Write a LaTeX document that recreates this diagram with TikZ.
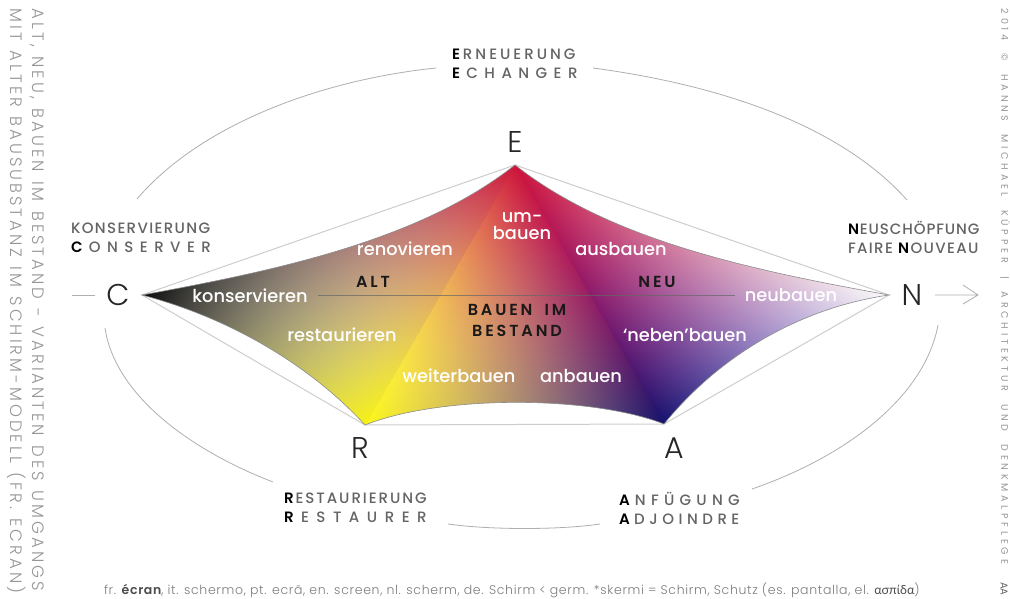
\documentclass[tikz,border=0pt]{standalone}
\usepackage{fontspec}
\setmainfont{Poppins}[UprightFont=* Light,BoldFont=* SemiBold]
\newfontfamily\medfont{Poppins Medium}
\newfontfamily\greekfont{Lato}
\newfontfamily\sidelfont{Poppins Light}[LetterSpace=18.3,WordSpace=1.25]
\newfontfamily\sidesfont{Poppins}[LetterSpace=39.5,WordSpace=2.1]
\newfontfamily\logofont{Poppins}
\newfontfamily\blackfont{Poppins SemiBold}[LetterSpace=18,WordSpace=1.8]
\newfontfamily\footfont{Poppins Light}[LetterSpace=5.4,BoldFont=Poppins SemiBold]
\definecolor{lab}{RGB}{100,100,100}
\definecolor{side}{RGB}{150,150,150}
\definecolor{foot}{RGB}{125,125,125}
\definecolor{arcg}{RGB}{175,175,175}
\definecolor{edgeg}{RGB}{205,205,205}
\tikzset{
 every node/.style={inner sep=0pt,outer sep=0pt},
 vertexl/.style={font=\fontsize{30bp}{30bp}\selectfont,text=black!85},
 heading/.style={text=lab,align=left,anchor=west,font=\fontsize{15bp}{19bp}\selectfont},
 inner/.style={text=white,font=\medfont\fontsize{17.8bp}{17bp}\selectfont,align=center},
 black label/.style={text=black!90,font=\blackfont\fontsize{16bp}{21bp}\selectfont,align=center},
 sidetext/.style={text=side,rotate=-90,anchor=west},
 arcline/.style={draw=arcg,line width=0.8bp},
 edgeline/.style={draw=edgeg,line width=1bp},
}
\newcommand\baryPS[6]{%
 #6 sub exch #5 sub exch
 1 index \fpeval{round((#4-#6)/((#4-#6)*(#1-#5)+(#5-#3)*(#2-#6)),7)} mul 1 index \fpeval{round((#5-#3)/((#4-#6)*(#1-#5)+(#5-#3)*(#2-#6)),7)} mul add
 2 index \fpeval{round((#6-#2)/((#4-#6)*(#1-#5)+(#5-#3)*(#2-#6)),7)} mul 2 index \fpeval{round((#1-#5)/((#4-#6)*(#1-#5)+(#5-#3)*(#2-#6)),7)} mul add
 4 -2 roll pop pop
 1 index 1 index add 1 exch sub }
\newcommand\chanPS[7]{%
 \the\numexpr#1+2\relax\space index dup 2 mul 1 sub mul \fpeval{round(#2/255,4)} mul
 \the\numexpr#1+2\relax\space index dup 2 mul 1 sub mul \fpeval{round(#3/255,4)} mul add
 \the\numexpr#1+1\relax\space index dup 2 mul 1 sub mul \fpeval{round(#4/255,4)} mul add
 \the\numexpr#1+3\relax\space index \the\numexpr#1+3\relax\space index mul 4 mul \fpeval{round(#5/255,4)} mul add
 \the\numexpr#1+3\relax\space index \the\numexpr#1+2\relax\space index mul 4 mul \fpeval{round(#6/255,4)} mul add
 \the\numexpr#1+2\relax\space index \the\numexpr#1+2\relax\space index mul 4 mul \fpeval{round(#7/255,4)} mul add }
\def\finPS{ 6 -3 roll pop pop pop }
\edef\leftPS{\baryPS{142}{295}{515}{165}{365}{425}
 \chanPS{0}{10}{205}{245}{150}{160}{225}
 \chanPS{1}{10}{20}{240}{110}{155}{170}
 \chanPS{2}{10}{58}{20}{110}{100}{95}
 \finPS}
\edef\midPS{\baryPS{515}{165}{365}{425}{664}{424}
 \chanPS{0}{205}{250}{20}{240}{150}{165}
 \chanPS{1}{20}{245}{20}{185}{30}{145}
 \chanPS{2}{58}{25}{105}{85}{100}{110}
 \finPS}
\edef\rightPS{\baryPS{515}{165}{889}{295}{664}{424}
 \chanPS{0}{205}{250}{20}{232}{140}{140}
 \chanPS{1}{20}{250}{20}{160}{25}{135}
 \chanPS{2}{58}{250}{110}{175}{105}{200}
 \finPS}
\edef\fullPS{599 exch sub
 1 index 515 sub 1 index 165 sub \fpeval{round(150/260,5)} mul add 0 lt
 {\leftPS}
 {1 index 515 sub 1 index 165 sub \fpeval{round(149/259,5)} mul sub 0 gt
  {\rightPS}{\midPS} ifelse}
 ifelse}
\pgfdeclarefunctionalshading{shirm}{\pgfpointorigin}{\pgfpoint{1010bp}{599bp}}{}{\fullPS}
\newcommand\hs[2]{{\fontspec{Poppins Medium}[LetterSpace=#1]\fontsize{15bp}{19bp}\selectfont #2}}
\newcommand\bl[2]{{\fontspec{Poppins SemiBold}[LetterSpace=#1]\fontsize{15bp}{19bp}\selectfont\color{black} #2}\kern\fpeval{#1*0.15}bp\relax}
\begin{document}
\begin{tikzpicture}[x=1bp,y=-1bp]
\useasboundingbox (0,0) rectangle (1010,599);
\fill[white] (0,0) rectangle (1010,599);
\coordinate (C) at (142,295);
\coordinate (E) at (515,165);
\coordinate (N) at (889,295);
\coordinate (A) at (664,424);
\coordinate (R) at (365,425);
\draw[edgeline] (C) -- (E) -- (N) -- (A) -- (R) -- cycle;
\begin{scope}
\clip (C) .. controls (280,270) and (420,240) .. (E)
 .. controls (610,240) and (750,270) .. (N)
 .. controls (800,308) and (720,355) .. (A)
 .. controls (590,395) and (440,395) .. (R)
 .. controls (310,365) and (230,318) .. (C) -- cycle;
\node[anchor=north west] at (0,0) {\pgfuseshading{shirm}};
\end{scope}
\draw[draw=black!45,line width=0.6bp,line join=miter] (C) .. controls (280,270) and (420,240) .. (E)
 .. controls (610,240) and (750,270) .. (N)
 .. controls (800,308) and (720,355) .. (A)
 .. controls (590,395) and (440,395) .. (R)
 .. controls (310,365) and (230,318) .. (C) -- cycle;
\coordinate (ml) at (318,295);
\coordinate (mr) at (735,295);
\draw[draw=black!60,line width=0.6bp,opacity=.7] (ml) -- (mr);
\node[vertexl] (lE) at (515,142) {E};
\node[vertexl] (lC) at (118,295) {C};
\node[vertexl] (lN) at (912,295) {N};
\node[vertexl] (lR) at (360,448) {R};
\node[vertexl] (lA) at (674,448) {A};
\coordinate (a1) at (137,199); \coordinate (a2) at (436,68);
\coordinate (b1) at (593,68); \coordinate (b2) at (907,200);
\coordinate (c1) at (938,325); \coordinate (c2) at (752,489);
\coordinate (d1) at (448,524); \coordinate (d2) at (600,524);
\coordinate (e1) at (105,328); \coordinate (e2) at (273,482);
\draw[arcline] (a1) .. controls (200,125) and (320,80) .. (a2);
\draw[arcline] (b1) .. controls (720,85) and (840,125) .. (b2);
\draw[arcline] (c1) .. controls (925,395) and (850,455) .. (c2);
\draw[arcline] (d1) .. controls (490,530) and (560,530) .. (d2);
\draw[arcline] (e1) .. controls (115,395) and (190,450) .. (e2);
\coordinate (la) at (72,295); \coordinate (lb) at (95,295);
\coordinate (ra) at (935,295); \coordinate (rb) at (978,295);
\coordinate (rt) at (963,285); \coordinate (rd) at (963,304);
\draw[arcline] (la) -- (lb);
\draw[arcline] (ra) -- (rb) (rt) -- (rb) -- (rd);
\node[heading] (hE) at (452,63.5) {\bl{20}{E}\hs{20}{RNEUERUNG}\\\bl{43}{E}\hs{43}{CHANGER}};
\node[heading] (hC) at (71,237.5) {\hs{9}{KONSERVIERUNG}\\\bl{43}{C}\hs{43}{ONSERVER}};
\node[heading] (hN) at (848,237.5) {\bl{6}{N}\hs{6}{EUSCHÖPFUNG}\\\hs{9}{FAIRE }\bl{9}{N}\hs{9}{OUVEAU}};
\node[heading] (hR) at (284,508) {\bl{13}{R}\hs{13}{ESTAURIERUNG}\\\bl{50}{R}\hs{50}{ESTAURER}};
\node[heading] (hA) at (619,508) {\bl{35}{A}\hs{35}{NFÜGUNG}\\\bl{30}{A}\hs{30}{DJOINDRE}};
\node[inner] (t1) at (250,296) {konservieren};
\node[inner] (t2) at (405,249) {renovieren};
\node[inner] (t3) at (342,335) {restaurieren};
\node[inner] (t4) at (522,226) {um-\\bauen};
\node[inner] (t5) at (621,249) {ausbauen};
\node[inner] (t6) at (791,295) {neubauen};
\node[inner] (t7) at (685,335) {‘neben’bauen};
\node[inner] (t8) at (459,376) {weiterbauen};
\node[inner] (t9) at (581,376) {anbauen};
\node[black label] (b1) at (373,282) {ALT};
\node[black label] (b2) at (657,282) {NEU};
\node[black label] (b3) at (517,320) {BAUEN IM\\BESTAND};
\node[sidetext,font={\sidelfont\fontsize{16.5bp}{17bp}\selectfont}] (s1) at (37,9) {ALT, NEU, BAUEN IM BESTAND - VARIANTEN DES UMGANGS};
\node[sidetext,font={\sidelfont\fontsize{16.5bp}{17bp}\selectfont}] (s2) at (17,9) {MIT ALTER BAUSUBSTANZ IM SCHIRM-MODELL (FR. ECRAN)};
\node[sidetext,font={\sidesfont\fontsize{9.5bp}{10bp}\selectfont}] (s3) at (1005,9) {2014 © HANNS MICHAEL KÜPPER | ARCHITEKTUR UND DENKMALPFLEGE};
\node[sidetext,font={\logofont\fontsize{10bp}{10bp}\selectfont},text=black!60] (s4) at (1004,582) {AA};
\node[anchor=west,text=foot,font={\footfont\fontsize{12.5bp}{13bp}\selectfont}] (f) at (104,590) {fr. {\bfseries\color{black!70}écran}, it. schermo, pt. ecrã, en. screen, nl. scherm, de. Schirm < germ. *skermi = Schirm, Schutz (es. pantalla, el. {\greekfont\color{black!70}ασπίδα})};
\end{tikzpicture}
\end{document}
